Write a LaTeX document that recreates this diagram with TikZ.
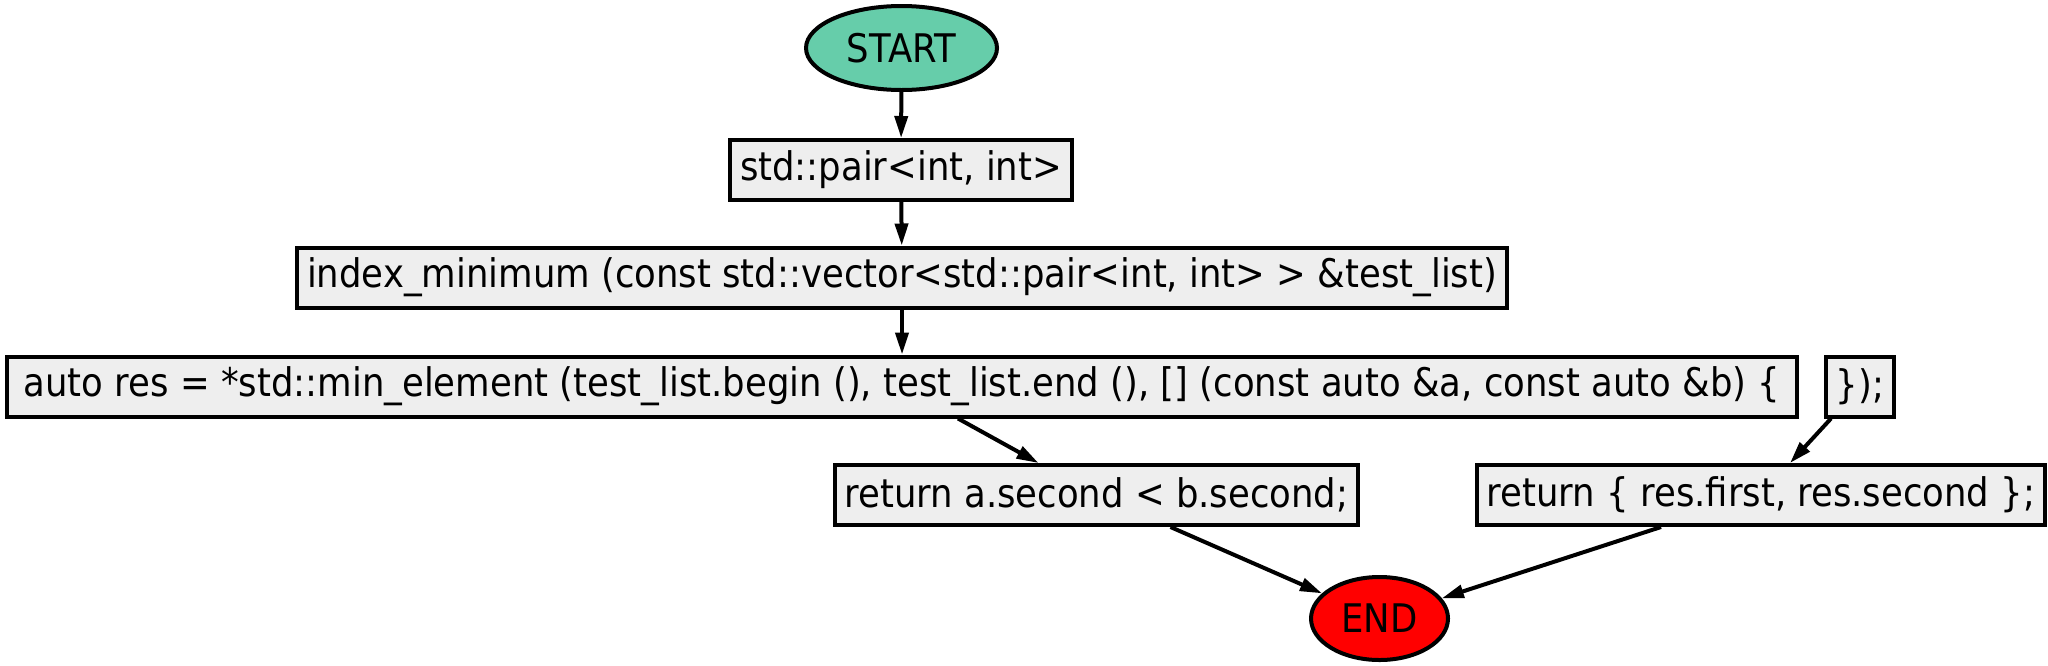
\documentclass[tikz,border=0pt]{standalone}
\usepackage{fontspec}
\setmainfont[FakeStretch=0.9]{DejaVu Sans}
\usetikzlibrary{arrows.meta,shapes.geometric}
\definecolor{boxgray}{RGB}{238,238,238}
\definecolor{startgreen}{RGB}{102,205,170}
\begin{document}
\begin{tikzpicture}[x=0.5pt,y=-0.5pt,line width=2pt,
  font=\fontsize{19.7}{24}\selectfont,
  codebox/.style={draw,fill=boxgray,inner xsep=5pt,inner ysep=0pt,minimum height=30pt},
  term/.style={draw,ellipse,inner sep=0pt},
  flow/.style={-{Triangle[length=11pt,width=6.5pt]}}]
\useasboundingbox (0,0) rectangle (2048,665);
\node[term,fill=startgreen,minimum width=95.5pt,minimum height=42pt] (start) at (901.5,48) {START};
\node[codebox] (pair) at (901,170) {std::pair<int, int>};
\node[codebox] (index) at (902,277.5) {index\_minimum (const std::vector<std::pair<int, int> > \&test\_list)};
\node[codebox,minimum width=895pt] (minel) at (902,386.5) {auto res = *std::min\_element (test\_list.begin (), test\_list.end (), [] (const auto \&a, const auto \&b) \{};
\node[codebox] (close) at (1860,386.5) {\});};
\node[codebox] (reta) at (1096.5,495) {return a.second < b.second;};
\node[codebox] (retres) at (1761,495) {return \{ res.first, res.second \};};
\node[term,fill=red,minimum width=68.5pt,minimum height=41.5pt] (end) at (1379.5,618.5) {END};
\draw[flow] (start) -- (pair);
\draw[flow] (pair) -- (index);
\draw[flow] (index) -- (minel);
\draw[flow] ([xshift=28pt]minel.south) -- ([xshift=-29pt]reta.north);
\draw[flow] ([xshift=-14.5pt]close.south) -- ([xshift=14.5pt]retres.north);
\draw[flow] ([xshift=37pt]reta.south) -- (end);
\draw[flow] ([xshift=-50pt]retres.south) -- (end);
\end{tikzpicture}
\end{document}
